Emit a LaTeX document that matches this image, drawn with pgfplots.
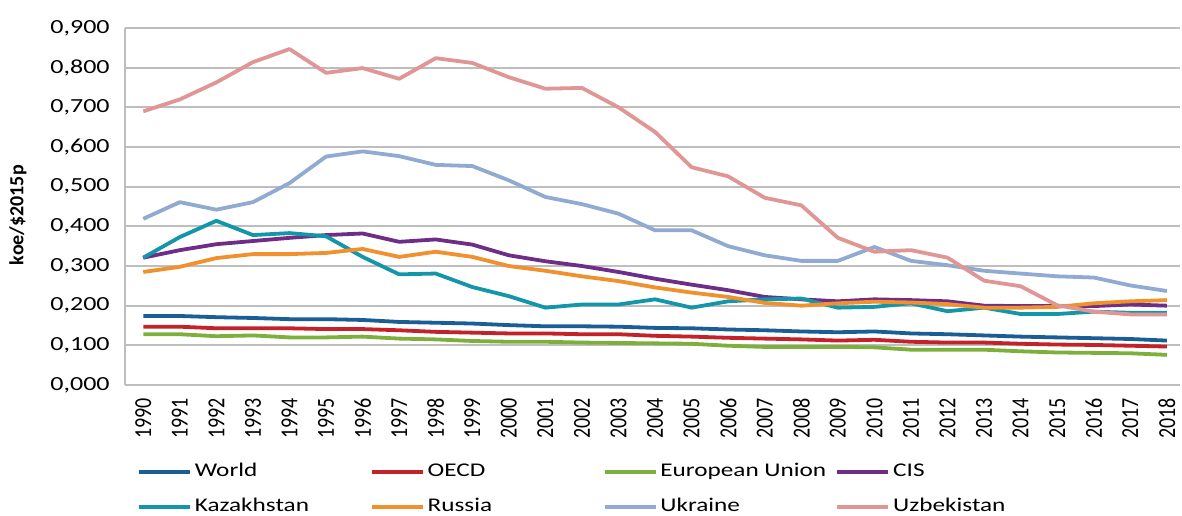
\documentclass[border=0pt]{standalone}
\usepackage{fontspec}
\usepackage{graphicx}
\usepackage{pgfplots}
\usepackage{pgfplotstable}
\pgfplotsset{compat=1.18}
\setmainfont{Carlito}
\newfontfamily\hfont{Carlito}[FakeStretch=1.3]
\definecolor{cWorld}{RGB}{25,95,150}
\definecolor{cOECD}{RGB}{195,35,40}
\definecolor{cEU}{RGB}{125,175,60}
\definecolor{cCIS}{RGB}{110,45,135}
\definecolor{cKaz}{RGB}{20,150,170}
\definecolor{cRus}{RGB}{240,145,45}
\definecolor{cUkr}{RGB}{145,170,210}
\definecolor{cUzb}{RGB}{225,150,150}
\definecolor{cGrid}{RGB}{190,190,190}
\pgfplotstableread{
year World OECD EU CIS Kaz Rus Ukr Uzb
1990 0.174 0.147 0.128 0.321 0.321 0.285 0.419 0.690
1991 0.174 0.147 0.128 0.340 0.373 0.298 0.461 0.720
1992 0.171 0.143 0.123 0.355 0.414 0.320 0.442 0.763
1993 0.169 0.143 0.125 0.363 0.378 0.330 0.461 0.814
1994 0.166 0.143 0.120 0.371 0.383 0.330 0.509 0.847
1995 0.166 0.141 0.120 0.378 0.375 0.333 0.576 0.787
1996 0.164 0.141 0.122 0.382 0.323 0.343 0.589 0.799
1997 0.159 0.138 0.117 0.361 0.279 0.323 0.577 0.772
1998 0.157 0.134 0.115 0.367 0.281 0.336 0.555 0.824
1999 0.155 0.132 0.111 0.354 0.247 0.323 0.552 0.812
2000 0.151 0.130 0.109 0.327 0.224 0.300 0.516 0.776
2001 0.148 0.130 0.109 0.312 0.195 0.288 0.474 0.747
2002 0.148 0.128 0.107 0.300 0.203 0.274 0.456 0.749
2003 0.147 0.128 0.106 0.285 0.203 0.262 0.432 0.700
2004 0.144 0.124 0.105 0.268 0.216 0.246 0.390 0.638
2005 0.143 0.122 0.104 0.253 0.195 0.233 0.390 0.549
2006 0.140 0.119 0.099 0.239 0.211 0.222 0.350 0.526
2007 0.138 0.117 0.096 0.222 0.216 0.207 0.327 0.472
2008 0.135 0.115 0.096 0.216 0.218 0.200 0.313 0.453
2009 0.133 0.112 0.096 0.211 0.195 0.206 0.313 0.371
2010 0.135 0.114 0.095 0.216 0.197 0.210 0.348 0.336
2011 0.130 0.109 0.089 0.214 0.206 0.208 0.313 0.340
2012 0.128 0.107 0.089 0.211 0.186 0.204 0.302 0.321
2013 0.125 0.107 0.089 0.200 0.195 0.195 0.288 0.263
2014 0.122 0.104 0.085 0.199 0.179 0.195 0.281 0.249
2015 0.120 0.102 0.082 0.199 0.179 0.197 0.274 0.201
2016 0.118 0.101 0.081 0.199 0.185 0.206 0.271 0.185
2017 0.116 0.099 0.080 0.203 0.182 0.211 0.251 0.178
2018 0.112 0.097 0.076 0.200 0.182 0.214 0.237 0.178
}\datatable
\begin{document}
\begin{tikzpicture}
\useasboundingbox (-62.5pt,-65pt) rectangle (528.5pt,192.5pt);
\begin{axis}[
  scale only axis,
  width=527.7pt, height=178.5pt,
  xmin=1989.5, xmax=2018.37,
  ymin=0, ymax=0.9,
  axis x line*=bottom, axis y line*=left,
  axis line style={draw=cGrid, line width=0.9pt, -},
  ymajorgrids, grid style={draw=cGrid, line width=0.9pt},
  major tick length=0pt,
  xtick={1990,1991,...,2018},
  ytick={0,0.1,...,0.9},
  /pgf/number format/assume math mode=true,
  yticklabel style={font=\hfont\fontsize{10}{12}\selectfont, inner sep=0pt, xshift=-7.5pt,
    /pgf/number format/.cd, fixed, fixed zerofill, precision=3, use comma},
  xticklabel={\scalebox{1}[1.22]{\pgfmathprintnumber[1000 sep={}]{\tick}}},
  xticklabel style={font=\fontsize{10}{12}\selectfont, yshift=-6.5pt, rotate=90, anchor=east, inner sep=0pt},
  ylabel={\textbf{koe/\$2015p}},
  ylabel style={at={(axis description cs:-0.1014,0.476)}, anchor=center, font=\fontsize{10}{12}\selectfont},
  legend columns=4,
  legend image code/.code={\draw[#1] (0pt,0pt) -- (25.5pt,0pt);},
  legend style={draw=none, inner sep=0pt, outer sep=0pt, fill=none,
    at={(axis description cs:0.0114,-0.2927)}, anchor=west,
    font=\hfont\fontsize{9.7}{11}\selectfont,
    nodes={inner sep=1.5pt, text height=7pt, text depth=2pt},
    /tikz/column sep=0pt, /tikz/row sep=5.5pt},
  legend cell align=left,
  every axis plot/.append style={line width=1.9pt, line join=round},
]
\addplot[cWorld] table[x=year,y=World]{\datatable};
\addlegendentry{\makebox[86pt][l]{World}}
\addplot[cOECD] table[x=year,y=OECD]{\datatable};
\addlegendentry{\makebox[86pt][l]{OECD}}
\addplot[cEU] table[x=year,y=EU]{\datatable};
\addlegendentry{\makebox[86pt][l]{European Union}}
\addplot[cCIS] table[x=year,y=CIS]{\datatable};
\addlegendentry{CIS}
\addplot[cKaz] table[x=year,y=Kaz]{\datatable};
\addlegendentry{\makebox[86pt][l]{Kazakhstan}}
\addplot[cRus] table[x=year,y=Rus]{\datatable};
\addlegendentry{\makebox[86pt][l]{Russia}}
\addplot[cUkr] table[x=year,y=Ukr]{\datatable};
\addlegendentry{\makebox[86pt][l]{Ukraine}}
\addplot[cUzb] table[x=year,y=Uzb]{\datatable};
\addlegendentry{Uzbekistan}
\end{axis}
\end{tikzpicture}
\end{document}
